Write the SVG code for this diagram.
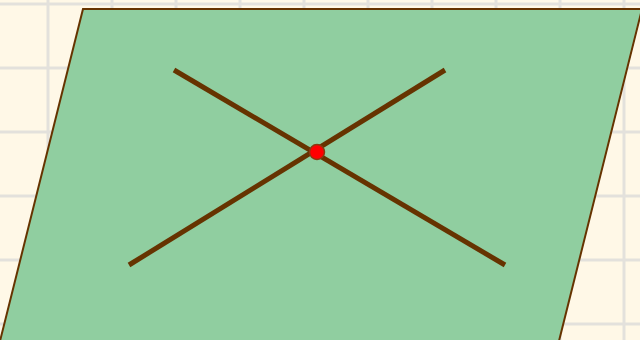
<svg xmlns="http://www.w3.org/2000/svg" width="640" height="340" viewBox="0 0 640 340">
<defs>
<style>
.grid{stroke:#e3e1dc;stroke-width:3}
.seg{stroke:#663300;stroke-width:5;stroke-linecap:butt}
</style>
</defs>
<rect width="640" height="340" fill="#fff8e7"/>
<g id="grid" class="grid">
<line x1="48" y1="0" x2="48" y2="340"/><line x1="112" y1="0" x2="112" y2="340"/><line x1="176" y1="0" x2="176" y2="340"/><line x1="240" y1="0" x2="240" y2="340"/><line x1="304" y1="0" x2="304" y2="340"/><line x1="368" y1="0" x2="368" y2="340"/><line x1="432" y1="0" x2="432" y2="340"/><line x1="496" y1="0" x2="496" y2="340"/><line x1="560" y1="0" x2="560" y2="340"/><line x1="624" y1="0" x2="624" y2="340"/>
<line x1="0" y1="4" x2="640" y2="4"/><line x1="0" y1="68" x2="640" y2="68"/><line x1="0" y1="132" x2="640" y2="132"/><line x1="0" y1="196" x2="640" y2="196"/><line x1="0" y1="260" x2="640" y2="260"/><line x1="0" y1="324" x2="640" y2="324"/>
</g>
<g id="plane">
<polygon points="83,9 642,9 559,341 0,341" fill="#90cea0" stroke="#663300" stroke-width="2"/>
</g>
<g id="connectors">
<line class="seg" x1="174" y1="70" x2="505" y2="265"/>
<line class="seg" x1="129" y1="265" x2="445" y2="70"/>
</g>
<g id="point">
<circle cx="317" cy="152" r="7.5" fill="#ff0000" stroke="#8a3a10" stroke-width="1.5"/>
</g>
</svg>
